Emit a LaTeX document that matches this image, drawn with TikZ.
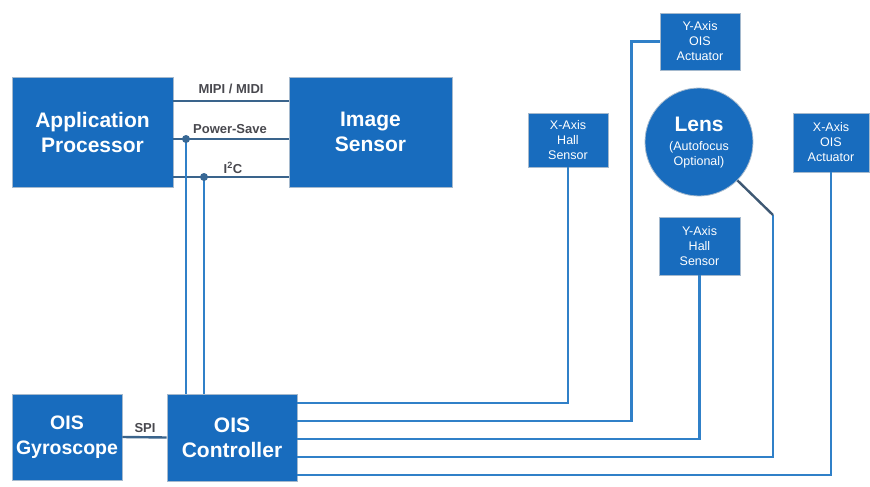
\documentclass[tikz,border=0pt]{standalone}
\usepackage{fontspec}
\setmainfont{Liberation Sans}
\usetikzlibrary{calc}
\definecolor{boxblue}{RGB}{24,108,190}
\definecolor{lineblue}{RGB}{48,128,200}
\definecolor{diagc}{RGB}{62,88,115}
\definecolor{labgray}{RGB}{72,72,78}
\definecolor{edgec}{RGB}{165,185,205}
\tikzset{
  bigbox/.style={draw=edgec, line width=0.8pt, fill=boxblue, text=white, align=center, inner sep=0pt,
    font=\bfseries\fontsize{21}{25}\selectfont},
  smallbox/.style={draw=edgec, line width=0.8pt, fill=boxblue, text=white, align=center, inner sep=0pt,
    font=\fontsize{12.5}{15}\selectfont},
  wire/.style={draw=lineblue, line width=2.4pt},
  buswire/.style={draw=diagc!70!lineblue, line width=2.4pt},
  lab/.style={text=labgray, font=\bfseries\fontsize{13}{15}\selectfont, inner sep=0pt},
  jdot/.style={circle, fill=diagc!60!lineblue, minimum size=8pt, inner sep=0pt}
}
\begin{document}
\begin{tikzpicture}[x=1pt,y=-1pt]
\useasboundingbox (0,0) rectangle (870,487);
% nodes
\node[bigbox, minimum width=161pt, minimum height=110pt] (ap) at (92.5,132) {Application\\Processor};
\node[bigbox, minimum width=163pt, minimum height=110pt] (is) at (370.5,132) {Image\\Sensor};
\node[bigbox, minimum width=110pt, minimum height=86pt, font=\bfseries\fontsize{19.5}{25}\selectfont] (gyro) at (67,437) {OIS\\Gyroscope};
\node[bigbox, minimum width=130pt, minimum height=87pt] (ctrl) at (232,437.5) {OIS\\Controller};
\node[smallbox, minimum width=80pt, minimum height=54pt] (xhall) at (568,140) {X-Axis\\Hall\\Sensor};
\node[smallbox, minimum width=80pt, minimum height=57pt] (yact) at (700,41.5) {Y-Axis\\OIS\\Actuator};
\node[smallbox, minimum width=81pt, minimum height=58pt] (yhall) at (699.5,246) {Y-Axis\\Hall\\Sensor};
\node[smallbox, minimum width=76pt, minimum height=59pt] (xact) at (831,142.5) {X-Axis\\OIS\\Actuator};
\node[circle, draw=edgec, line width=0.8pt, fill=boxblue, text=white, align=center, inner sep=0pt,
  minimum size=108pt] (lens) at (699,142) {};
\node[text=white, align=center, inner sep=0pt, font=\bfseries\fontsize{21}{22}\selectfont] (lenst) at (699,124) {Lens};
\node[text=white, align=center, inner sep=0pt, font=\fontsize{12.5}{15}\selectfont] (lensst) at (699,155) {(Autofocus\\Optional)};
% top buses
\draw[buswire] ([yshift=31pt]ap.east) -- ([yshift=31pt]is.west);
\draw[buswire] ([yshift=-7pt]ap.east) -- ([yshift=-7pt]is.west);
\draw[buswire] ([yshift=-45pt]ap.east) -- ([yshift=-45pt]is.west);
\node[lab] (lmipi) at (231,89) {MIPI / MIDI};
\node[lab] (lps) at (230,129) {Power-Save};
\node[lab] (li2c) at (233,168) {I\textsuperscript{2}C};
\coordinate (dps) at (186,139);
\coordinate (di2c) at (204,177);
\draw[wire] (dps) -- (dps |- ctrl.north);
\draw[wire] (di2c) -- (di2c |- ctrl.north);
\node[jdot] (jps) at (dps) {};
\node[jdot] (ji2c) at (di2c) {};
% SPI
\draw[buswire] (gyro.east) -- (ctrl.west);
\node[lab] (lspi) at (145,428) {SPI};
% right side
\coordinate (ycorner) at ([xshift=-28pt]yact.west);
\coordinate (lcorner) at (773,215);
\draw[wire] ([yshift=34.5pt]ctrl.east) -| (xhall.south);
\draw[wire] ([yshift=16.5pt]ctrl.east) -| (ycorner) -- (yact.west);
\draw[wire] ([yshift=-1.5pt]ctrl.east) -| (yhall.south);
\draw[wire] ([yshift=-19.5pt]ctrl.east) -| (lcorner);
\draw[draw=diagc, line width=2.4pt] (lcorner) -- (lens.-45);
\draw[wire] ([yshift=-37.5pt]ctrl.east) -| (xact.south);
\end{tikzpicture}
\end{document}
